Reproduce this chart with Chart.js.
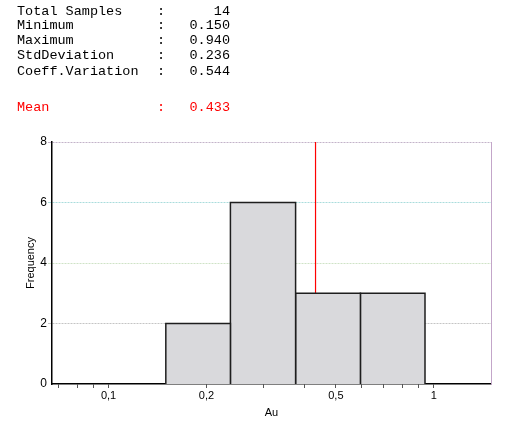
<!DOCTYPE html>
<html>
<head>
<meta charset="utf-8">
<script src="https://cdn.jsdelivr.net/npm/chart.js@4"></script>
<style>
  html, body { margin: 0; padding: 0; background: #fff; }
  #wrap { position: relative; width: 513px; height: 424px; overflow: hidden; }
  #stats { position: absolute; left: 0; top: 0; width: 513px; font-family: "Liberation Mono", "DejaVu Sans Mono", monospace; font-size: 13.5px; color: #000; }
  .row { position: absolute; left: 0; width: 260px; height: 15px; line-height: 15px; white-space: pre; }
  .row .lbl { position: absolute; left: 17px; }
  .row .sep { position: absolute; left: 157px; }
  .row .val { position: absolute; right: 30px; }
  .row.mean { color: #ff0000; }
  #chart-box { position: absolute; left: 0; top: 0; width: 513px; height: 424px; }
</style>
</head>
<body>
<div id="wrap">
  <div id="chart-box"><canvas id="hist"></canvas></div>
  <div id="stats"></div>
</div>
<script>
// --- Data ---
const statLabels = ['Total Samples', 'Minimum', 'Maximum', 'StdDeviation', 'Coeff.Variation'];
const statValues = ['14', '0.150', '0.940', '0.236', '0.544'];
const meanLabel = 'Mean';
const meanValue = 0.433;

const binEdges = [0.15, 0.237, 0.376, 0.595, 0.94];
const binCounts = [2, 6, 3, 3];

const xMajorValues = [0.1, 0.2, 0.5, 1];
const xMajorLabels = ['0,1', '0,2', '0,5', '1'];
const xMinorValues = [0.07, 0.08, 0.09, 0.3, 0.4, 0.6, 0.7, 0.8, 0.9];
const yTickValues = [0, 2, 4, 6, 8];

// --- Stats block ---
const statsEl = document.getElementById('stats');
const rowTops = [4, 18, 33, 48, 64];
statLabels.forEach((label, i) => {
  const row = document.createElement('div');
  row.className = 'row';
  row.style.top = rowTops[i] + 'px';
  row.innerHTML = `<span class="lbl">${label}</span><span class="sep">:</span><span class="val">${statValues[i]}</span>`;
  statsEl.appendChild(row);
});
const meanRow = document.createElement('div');
meanRow.className = 'row mean';
meanRow.style.top = '100px';
meanRow.innerHTML = `<span class="lbl">${meanLabel}</span><span class="sep">:</span><span class="val">${meanValue.toFixed(3)}</span>`;
statsEl.appendChild(meanRow);

// --- Datasets ---
const barFill = '#d9d9dc';
const barLine = '#1e1e1e';

const barDatasets = binCounts.map((count, i) => ({
  type: 'line',
  data: [
    { x: binEdges[i], y: 0 },
    { x: binEdges[i], y: count },
    { x: binEdges[i + 1], y: count },
    { x: binEdges[i + 1], y: 0 },
  ],
  borderColor: barLine,
  backgroundColor: barFill,
  borderWidth: 1.5,
  fill: 'origin',
  pointRadius: 0,
  tension: 0,
  order: 1,
}));

// mean marker, drawn behind the bars
const meanDataset = {
  type: 'line',
  data: [{ x: meanValue, y: 0 }, { x: meanValue, y: 8 }],
  borderColor: 'rgb(255,0,0)',
  backgroundColor: 'rgb(255,0,0)',
  borderWidth: 1.2,
  fill: false,
  pointRadius: 0,
  order: 5,
};

const gridColors = { 0: 'rgba(0,0,0,0)', 2: '#c4c4c4', 4: '#cfe3c6', 6: '#a9dcdc', 8: '#c3b3c9' };
const font = { family: '"Liberation Sans", Arial, sans-serif', size: 11 };

const allXTicks = [...xMinorValues, ...xMajorValues].sort((a, b) => a - b);

new Chart(document.getElementById('hist'), {
  type: 'line',
  data: { datasets: [...barDatasets, meanDataset] },
  options: {
    responsive: true,
    maintainAspectRatio: false,
    animation: false,
    events: [],
    layout: { padding: { top: 142, right: 22, left: 0, bottom: 0 } },
    plugins: { legend: { display: false }, tooltip: { enabled: false }, colors: { enabled: false } },
    scales: {
      x: {
        type: 'logarithmic',
        min: 0.067,
        max: 1.5,
        afterBuildTicks: (scale) => { scale.ticks = allXTicks.map((v) => ({ value: v })); },
        afterFit: (scale) => { scale.height = 40; },
        ticks: {
          autoSkip: false,
          maxRotation: 0,
          color: '#000',
          font,
          padding: 1,
          callback: (value) => {
            const idx = xMajorValues.findIndex((v) => Math.abs(v - value) < 1e-9);
            return idx >= 0 ? xMajorLabels[idx] : '';
          },
        },
        grid: { drawOnChartArea: false, drawTicks: true, tickLength: 4, tickColor: '#555', color: '#555' },
        border: { color: '#000', width: 1.5 },
        title: { display: true, text: 'Au', color: '#000', font, padding: { top: 0, bottom: 4 } },
      },
      y: {
        min: 0,
        max: 8,
        afterBuildTicks: (scale) => { scale.ticks = yTickValues.map((v) => ({ value: v })); },
        afterFit: (scale) => { scale.width = 52; },
        ticks: { color: '#000', font: { ...font, size: 12 }, padding: 1 },
        grid: {
          color: (ctx) => gridColors[ctx.tick ? ctx.tick.value : 0] || '#ccc',
          tickColor: (ctx) => gridColors[ctx.tick ? ctx.tick.value : 0] || '#ccc',
          tickLength: 4,
          lineWidth: 1,
        },
        border: { color: '#000', width: 1.5, dash: [2, 1] },
        title: { display: true, text: 'Frequency', color: '#000', font, padding: { top: 24, bottom: 0 } },
      },
      y2: {
        position: 'right',
        min: 0,
        max: 8,
        ticks: { display: false },
        grid: { display: false, drawTicks: false },
        afterFit: (scale) => { scale.width = 0; },
        border: { color: '#c3a6c9', width: 1 },
      },
    },
  },
});
</script>
</body>
</html>
